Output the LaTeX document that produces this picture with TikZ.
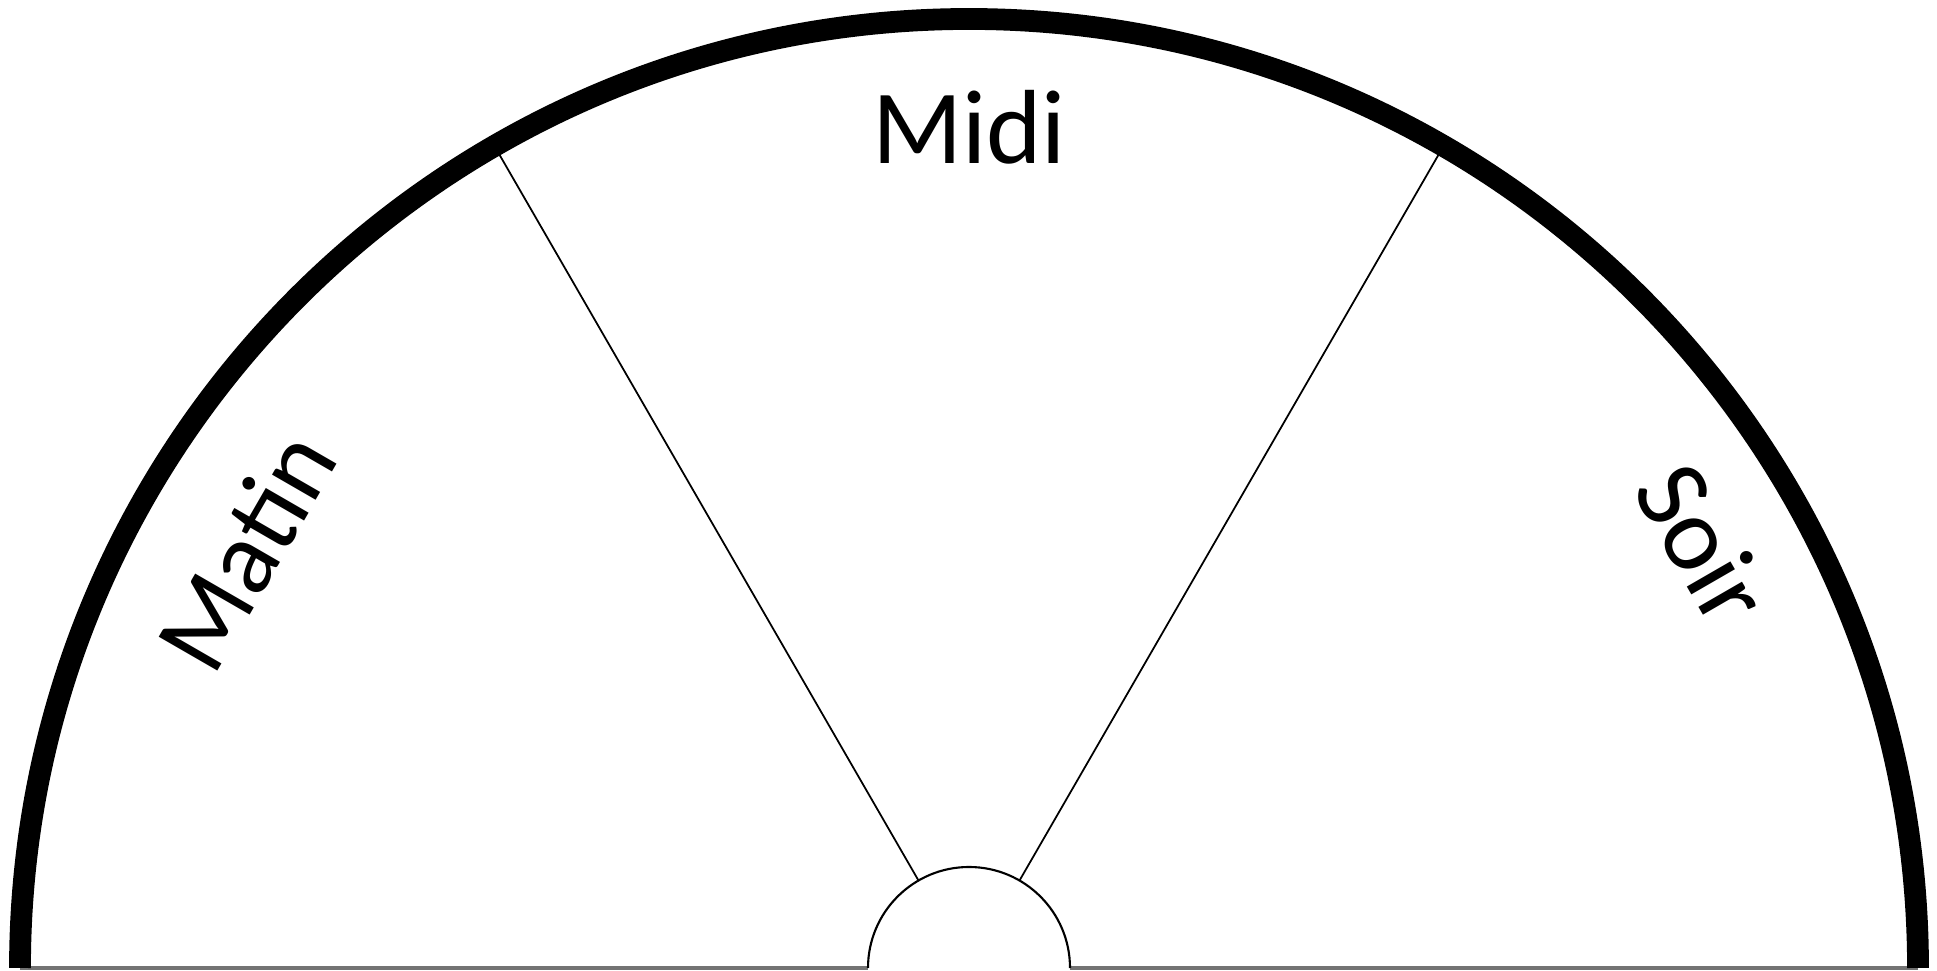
\documentclass[tikz,border=0pt]{standalone}
\usepackage{fontspec}
\setmainfont{Carlito}
\usepackage{tikz}
\usetikzlibrary{calc}

\begin{document}
\begin{tikzpicture}[font=\fontsize{30}{36}\selectfont,
  rim/.style={line width=6.2pt},
  spoke/.style={line width=0.5pt},
  hub/.style={line width=0.6pt},
  base/.style={draw=black!55,line width=1pt},
  daylabel/.style={anchor=center,inner sep=0pt}]
  \useasboundingbox (0,0) rectangle (19.37,9.71);
  \coordinate (o) at (9.69,0.03);
  % ground line on both sides of the hub
  \draw[base] ($(o)+(-9.49,0)$) -- ($(o)+(-1.01,0)$);
  \draw[base] ($(o)+(1.01,0)$) -- ($(o)+(9.49,0)$);
  % outer rim and hub
  \draw[rim] ($(o)+(-9.49,0)$) arc[start angle=180,end angle=0,radius=9.49];
  \draw[hub] ($(o)+(1.01,0)$) arc[start angle=0,end angle=180,radius=1.01];
  % spokes
  \draw[spoke] ($(o)+(60:1.01)$) -- ($(o)+(60:9.4)$);
  \draw[spoke] ($(o)+(120:1.01)$) -- ($(o)+(120:9.4)$);
  % labels
  \node[daylabel,rotate=60] (matin) at ($(o)+(150:8.35)$) {Matin};
  \node[daylabel] (midi) at ($(o)+(90:8.41)$) {Midi};
  \node[daylabel,rotate=-60] (soir) at ($(o)+(30:8.48)$) {Soir};
\end{tikzpicture}
\end{document}
